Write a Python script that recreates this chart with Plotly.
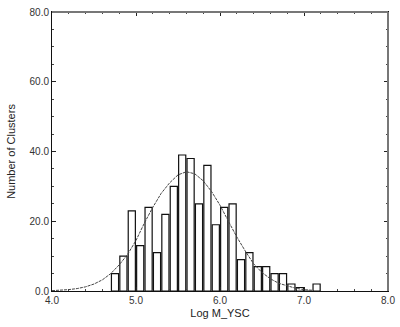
import plotly.graph_objects as go

# histogram of cluster masses, bins of 0.1 dex (left edges)
bin_left = [4.7, 4.8, 4.9, 5.0, 5.1, 5.2, 5.3, 5.4, 5.5, 5.6, 5.7, 5.8, 5.9,
            6.0, 6.1, 6.2, 6.3, 6.4, 6.5, 6.6, 6.7, 6.8, 6.9, 7.0, 7.1]
counts = [5, 10, 23, 13, 24, 11, 22, 30, 39, 38, 25, 36, 19,
          24, 25, 9, 11, 7, 7, 5, 5, 2, 1, 0, 2]

# fitted curve
curve_x = [4.0, 4.1, 4.2, 4.3, 4.4, 4.5, 4.6, 4.7, 4.8, 4.9, 5.0, 5.1, 5.2,
           5.3, 5.4, 5.5, 5.6, 5.7, 5.8, 5.9, 6.0, 6.1, 6.2, 6.3, 6.4, 6.5,
           6.6, 6.7, 6.8, 6.9, 7.0, 7.1]
curve_y = [0.1, 0.2, 0.4, 0.7, 1.2, 2.0, 3.2, 5.0, 7.5, 10.5, 14.5, 19.5, 24.0,
           28.0, 31.0, 33.3, 34.2, 33.6, 31.6, 28.5, 24.6, 20.0, 15.5, 11.5,
           7.8, 5.3, 3.5, 2.2, 1.4, 0.8, 0.4, 0.2]

bar_x = [b + 0.05 for b in bin_left]

fig = go.Figure()
fig.add_trace(go.Bar(x=bar_x, y=counts, width=0.085,
                     marker=dict(color='white', line=dict(color='#111', width=1.2))))
fig.add_trace(go.Scatter(x=curve_x, y=curve_y, mode='lines',
                         line=dict(color='#444', width=1, dash='3px,1px')))

tick_font = dict(family='Liberation Sans', size=10, color='#333')
title_font = dict(family='Liberation Sans', size=11, color='#222')
fig.update_layout(
    width=400, height=327,
    margin=dict(l=52, r=12, t=12, b=36),
    plot_bgcolor='white', paper_bgcolor='white',
    showlegend=False,
    font=tick_font,
    xaxis=dict(range=[4.0, 8.0], dtick=1, tickformat='.1f', ticks='inside',
               ticklen=4, tickcolor='#222', showgrid=False, zeroline=False,
               showline=True, linecolor='#111', linewidth=1, mirror='ticks',
               automargin=False, tickfont=tick_font,
               minor=dict(dtick=0.2, ticks='inside', ticklen=2, tickcolor='#444'),
               title=dict(text='Log M_YSC', font=title_font, standoff=4)),
    yaxis=dict(range=[0, 80], dtick=20, tickformat='.1f', ticks='inside',
               ticklen=4, tickcolor='#222', showgrid=False, zeroline=False,
               showline=True, linecolor='#111', linewidth=1, mirror='ticks',
               automargin=False, tickfont=tick_font,
               minor=dict(dtick=5, ticks='inside', ticklen=2, tickcolor='#444'),
               title=dict(text='Number of Clusters', font=title_font, standoff=11)),
)

# grey frame on top and right
fig.add_shape(type='line', xref='paper', yref='paper', x0=0, x1=1, y0=1, y1=1,
              line=dict(color='#777', width=2))
fig.add_shape(type='line', xref='paper', yref='paper', x0=1, x1=1, y0=0, y1=1,
              line=dict(color='#777', width=2))

# drop the default body margin so the figure sits at the page corner
fig.write_html("out.html", config={'displayModeBar': False},
               post_script="document.body.style.margin = '0';")
